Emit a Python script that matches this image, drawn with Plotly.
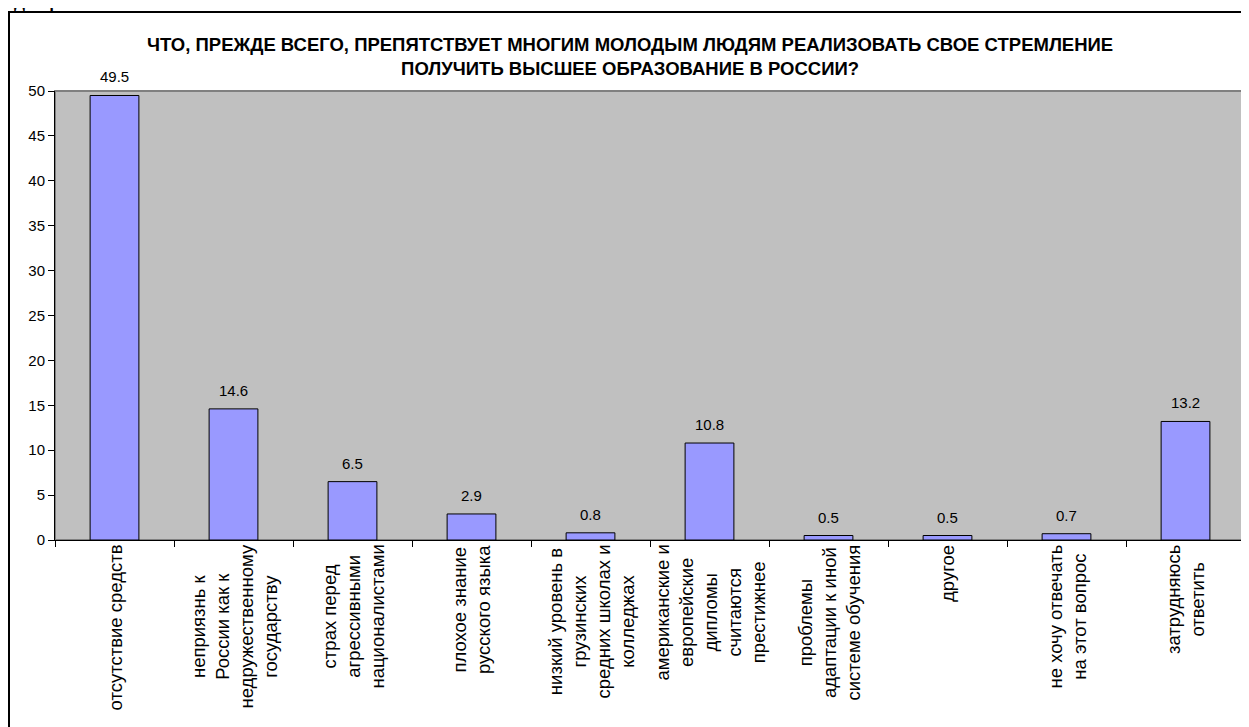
import plotly.graph_objects as go

categories = [
    "отсутствие средств",
    "неприязнь к<br>России как к<br>недружественному<br>государству",
    "страх перед<br>агрессивными<br>националистами",
    "плохое знание<br>русского языка",
    "низкий уровень в<br>грузинских<br>средних школах и<br>колледжах",
    "американские и<br>европейские<br>дипломы<br>считаются<br>престижнее",
    "проблемы<br>адаптации к иной<br>системе обучения",
    "другое",
    "не хочу отвечать<br>на этот вопрос",
    "затрудняюсь<br>ответить",
]
values = [49.5, 14.6, 6.5, 2.9, 0.8, 10.8, 0.5, 0.5, 0.7, 13.2]

title = ("ЧТО, ПРЕЖДЕ ВСЕГО, ПРЕПЯТСТВУЕТ МНОГИМ МОЛОДЫМ ЛЮДЯМ РЕАЛИЗОВАТЬ СВОЕ СТРЕМЛЕНИЕ<br>"
         "ПОЛУЧИТЬ ВЫСШЕЕ ОБРАЗОВАНИЕ В РОССИИ?")

# страница имеет отступ 8px, поэтому фигура чуть меньше окна
W, H = 1241, 719
L, R, T, B = 47, 4, 83, 187
pw, ph = W - L - R, H - T - B

fig = go.Figure()
fig.add_trace(go.Bar(
    x=list(range(len(values))), y=values,
    marker=dict(color="#9999FF", line=dict(color="black", width=1)),
    width=0.41,
    hoverinfo="skip",
))

ann = []
# подписи значений
for i, v in enumerate(values):
    ann.append(dict(x=i, y=v, xref="x", yref="y", text=str(v), showarrow=False,
                    yanchor="bottom", yshift=8, font=dict(size=15, color="black")))
# подписи категорий (повернутые)
for i, c in enumerate(categories):
    ann.append(dict(x=i, y=0, xref="x", yref="paper", text=c, showarrow=False,
                    textangle=-90, yanchor="top", xanchor="center", align="center",
                    yshift=-3, font=dict(size=18.5, color="black")))
# заголовок
ann.append(dict(x=(630 - 8 - L) / pw, y=(ph + T - 48) / ph, xref="paper", yref="paper", text=title,
                showarrow=False, yanchor="middle", align="center",
                font=dict(size=18.5, color="black", weight="bold")))
# обрезанная надпись над рамкой
ann.append(dict(x=0, y=1, xref="paper", yref="paper", text="Диаграмма",
                showarrow=False, xanchor="left", yanchor="bottom", xshift=-L + 4, yshift=T - 6,
                font=dict(size=16, color="black", family="Liberation Serif, Times New Roman", weight="bold")))

fig.update_layout(
    width=W, height=H,
    margin=dict(l=L, r=R, t=T, b=B),
    paper_bgcolor="white", plot_bgcolor="#C0C0C0",
    showlegend=False,
    font=dict(family="Liberation Sans, Arial", size=15, color="black"),
    annotations=ann,
    shapes=[
        # рамка области построения
        dict(type="rect", xref="paper", yref="paper", x0=0, x1=1, y0=0, y1=1,
             line=dict(color="#808080", width=2), layer="below"),
        # внешняя рамка
        dict(type="rect", xref="paper", yref="paper",
             x0=(1 - L) / pw, x1=(W + 20 - L) / pw,
             y0=-(H + 20 - T - ph) / ph, y1=(T + ph - 4) / ph,
             line=dict(color="black", width=2)),
    ],
)
fig.update_xaxes(
    range=[-0.5, len(values) - 0.5], showticklabels=False,
    ticks="outside", ticklen=6, tickcolor="black", tickmode="array",
    tickvals=[i - 0.5 for i in range(len(values) + 1)],
    showline=True, linecolor="black", linewidth=1, showgrid=False, zeroline=False,
)
fig.update_yaxes(
    range=[0, 50], dtick=5, ticks="outside", ticklen=6, tickcolor="black",
    showline=True, linecolor="black", linewidth=1, showgrid=False, zeroline=False,
    tickfont=dict(size=15),
)

fig.write_html("out.html")
